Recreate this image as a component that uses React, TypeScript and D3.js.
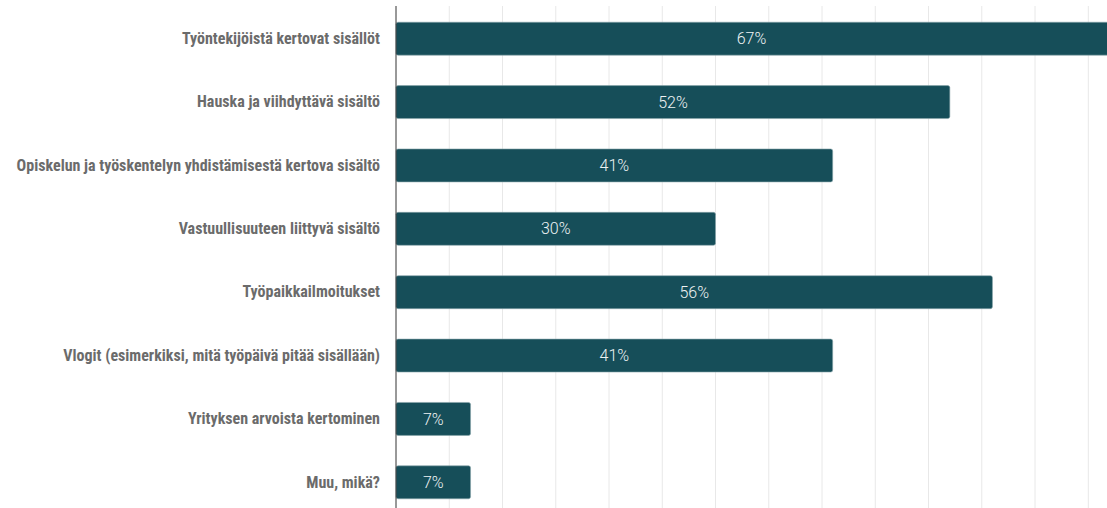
import React from "react";
import * as d3 from "d3";

const categories = [
  "Työntekijöistä kertovat sisällöt",
  "Hauska ja viihdyttävä sisältö",
  "Opiskelun ja työskentelyn yhdistämisestä kertova sisältö",
  "Vastuullisuuteen liittyvä sisältö",
  "Työpaikkailmoitukset",
  "Vlogit (esimerkiksi, mitä työpäivä pitää sisällään)",
  "Yrityksen arvoista kertominen",
  "Muu, mikä?",
];
const values = [67, 52, 41, 30, 56, 41, 7, 7];
const gridTicks = [5, 10, 15, 20, 25, 30, 35, 40, 45, 50, 55, 60, 65];

const W = 1107;
const H = 508;
const left = 396;

export default function App() {
  const x = d3.scaleLinear().domain([0, 65]).range([left, left + 692.3]);
  const y = d3
    .scaleBand<string>()
    .domain(categories)
    .range([7, 514])
    .paddingInner(0.48)
    .paddingOuter(0.24);

  return (
    <svg
      width={W}
      height={H}
      style={{ position: "absolute", left: 0, top: 0, background: "#fff" }}
    >
      {gridTicks.map((t) => (
        <line
          key={t}
          x1={x(t)}
          x2={x(t)}
          y1={6}
          y2={H}
          stroke="#e8e8e8"
          strokeWidth={1}
        />
      ))}
      {categories.map((c, i) => {
        const y0 = y(c)!;
        const bw = y.bandwidth();
        const x1 = x(values[i]);
        return (
          <g key={c}>
            <rect
              x={left}
              y={y0}
              width={x1 - left}
              height={bw}
              rx={2}
              fill="#164e59"
              stroke="#8aa6ab"
              strokeWidth={0.6}
            />
            <text
              x={(left + Math.min(x1, W)) / 2}
              y={y0 + bw / 2}
              dy="0.35em"
              textAnchor="middle"
              fill="#eef3f4"
              fontFamily="Roboto, sans-serif"
              fontWeight={300}
              fontSize={16}
            >
              {values[i]}%
            </text>
            <text
              x={380}
              y={y0 + bw / 2}
              dy="0.33em"
              textAnchor="end"
              fill="#6b6b6b"
              fontFamily="'Liberation Sans Narrow', 'Roboto Condensed', sans-serif"
              fontWeight="bold"
              fontSize={16}
            >
              {c}
            </text>
          </g>
        );
      })}
      <line x1={left} x2={left} y1={6} y2={H} stroke="#333" strokeWidth={1} />
    </svg>
  );
}
